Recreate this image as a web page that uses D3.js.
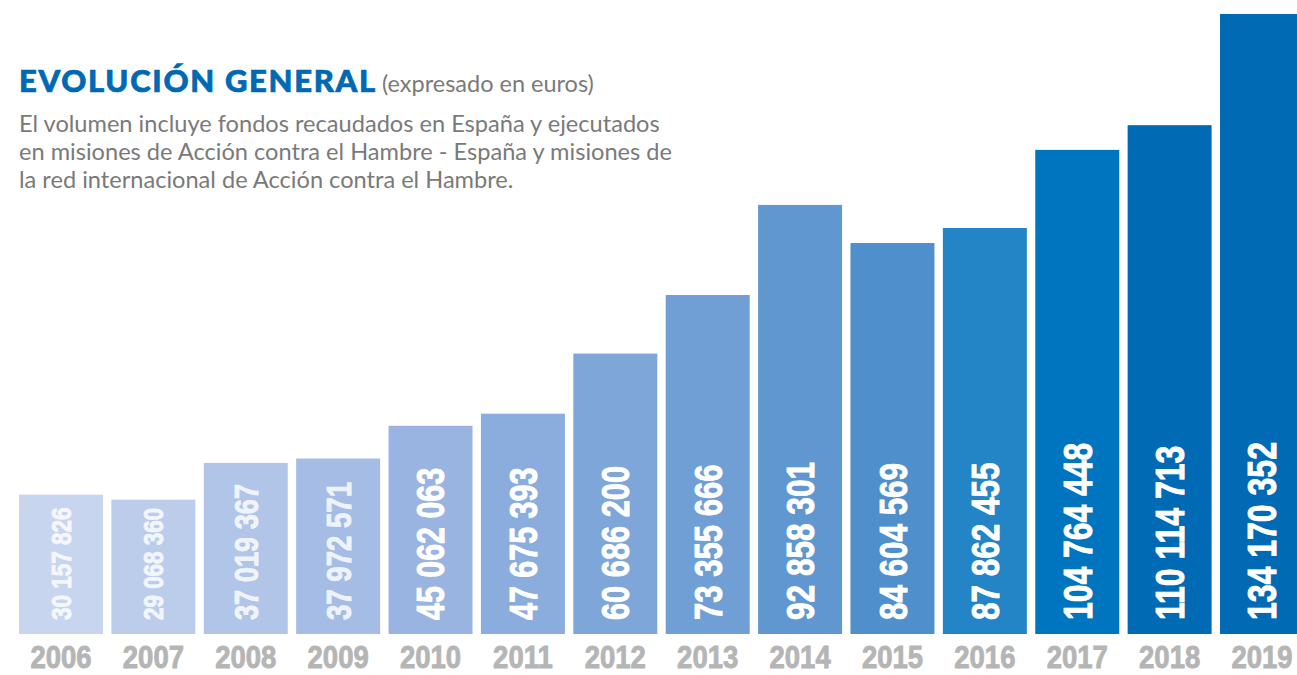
<!DOCTYPE html>
<html>
<head>
<meta charset="utf-8">
<script src="https://cdn.jsdelivr.net/npm/d3@7"></script>
<style>
  body { margin: 0; background: #fff; }
  svg { display: block; }
</style>
</head>
<body>
<svg id="chart" width="1297" height="675"></svg>
<script>
const years = ["2006", "2007", "2008", "2009", "2010", "2011", "2012",
               "2013", "2014", "2015", "2016", "2017", "2018", "2019"];
const amounts = [30157826, 29068360, 37019367, 37972571, 45062063, 47675393, 60686200,
                 73355666, 92858301, 84604569, 87862455, 104764448, 110114713, 134170352];
const barColors = ["#c8d5ee", "#bccdeb", "#b0c5e7", "#a5bce4", "#9ab4e1", "#8badde", "#7ea6d8",
                   "#6f9fd4", "#6097d0", "#4f8fcb", "#2384c6", "#0075bf", "#006bb4", "#006bb4"];
const titleText = "EVOLUCIÓN GENERAL";
const subtitleText = "(expresado en euros)";
const introLines = [
  "El volumen incluye fondos recaudados en España y ejecutados",
  "en misiones de Acción contra el Hambre - España y misiones de",
  "la red internacional de Acción contra el Hambre."
];

// no condensed face installed, so squeeze Liberation Sans Bold
const condensed = "'Liberation Sans', Arial, sans-serif";

window.addEventListener("load", drawChart);
function drawChart() {
  var svg = d3.select("#chart");

  var x = d3.scaleBand().domain(years).range([19, 1304]).paddingInner(0.091).paddingOuter(0);
  var y = d3.scaleLinear().domain([0, d3.max(amounts)]).range([634, 14]);
  var labelSize = d3.scaleLinear().domain([30e6, 37e6, 45e6, 110e6]).range([28, 34, 38, 40]).clamp(true);

  var fmt = v => d3.format(",")(v).replace(/,/g, " ");
  var data = years.map((yr, i) => ({ year: yr, value: amounts[i], color: barColors[i] }));

  // bars
  svg.selectAll("rect.bar").data(data).join("rect")
     .attr("class", "bar")
     .attr("x", d => x(d.year))
     .attr("y", d => y(d.value))
     .attr("width", x.bandwidth())
     .attr("height", d => y(0) - y(d.value))
     .attr("fill", d => d.color);

  // vertical value labels
  svg.selectAll("text.val").data(data).join("text")
     .attr("class", "val")
     .attr("transform", d => `translate(${x(d.year) + x.bandwidth() / 2},620) rotate(-90) scale(0.8,1)`)
     .attr("dy", "0.36em")
     .attr("fill", "#fff")
     .attr("stroke", "#fff")
     .attr("stroke-width", 0.9)
     .attr("opacity", (d, i) => i < 4 ? 0.82 : 1)
     .style("font-family", condensed)
     .style("font-weight", "bold")
     .style("font-size", d => labelSize(d.value) + "px")
     .text(d => fmt(d.value));

  // year axis
  var axis = svg.append("g").attr("transform", "translate(0,634)")
     .call(d3.axisBottom(x).tickSize(0).tickPadding(0));
  axis.select(".domain").remove();
  axis.selectAll(".tick text")
      .attr("y", 0)
      .attr("dy", 0)
      .attr("transform", "translate(0,34) scale(0.86,1)")
      .attr("fill", "#b5b5b5")
      .attr("stroke", "#b5b5b5")
      .attr("stroke-width", 0.9)
      .style("font-family", condensed)
      .style("font-weight", "bold")
      .style("font-size", "32px");

  // heading
  var head = svg.append("text").attr("x", 19).attr("y", 92);
  head.append("tspan")
      .attr("fill", "#0069b4")
      .attr("stroke", "#0069b4")
      .attr("stroke-width", 0.7)
      .style("font-family", "Lato, sans-serif")
      .style("font-weight", "900")
      .style("font-size", "31px")
      .style("letter-spacing", "1.7px")
      .text(titleText);
  head.append("tspan")
      .attr("dx", 5)
      .attr("fill", "#7a7a7a")
      .style("font-family", "Lato, sans-serif")
      .style("font-size", "23.5px")
      .text(subtitleText);

  svg.selectAll("text.intro").data(introLines).join("text")
     .attr("class", "intro")
     .attr("x", 19)
     .attr("y", (d, i) => 132 + i * 28)
     .attr("fill", "#7a7a7a")
     .style("font-family", "Lato, sans-serif")
     .style("font-size", "23.6px")
     .text(d => d);
}
</script>
</body>
</html>
